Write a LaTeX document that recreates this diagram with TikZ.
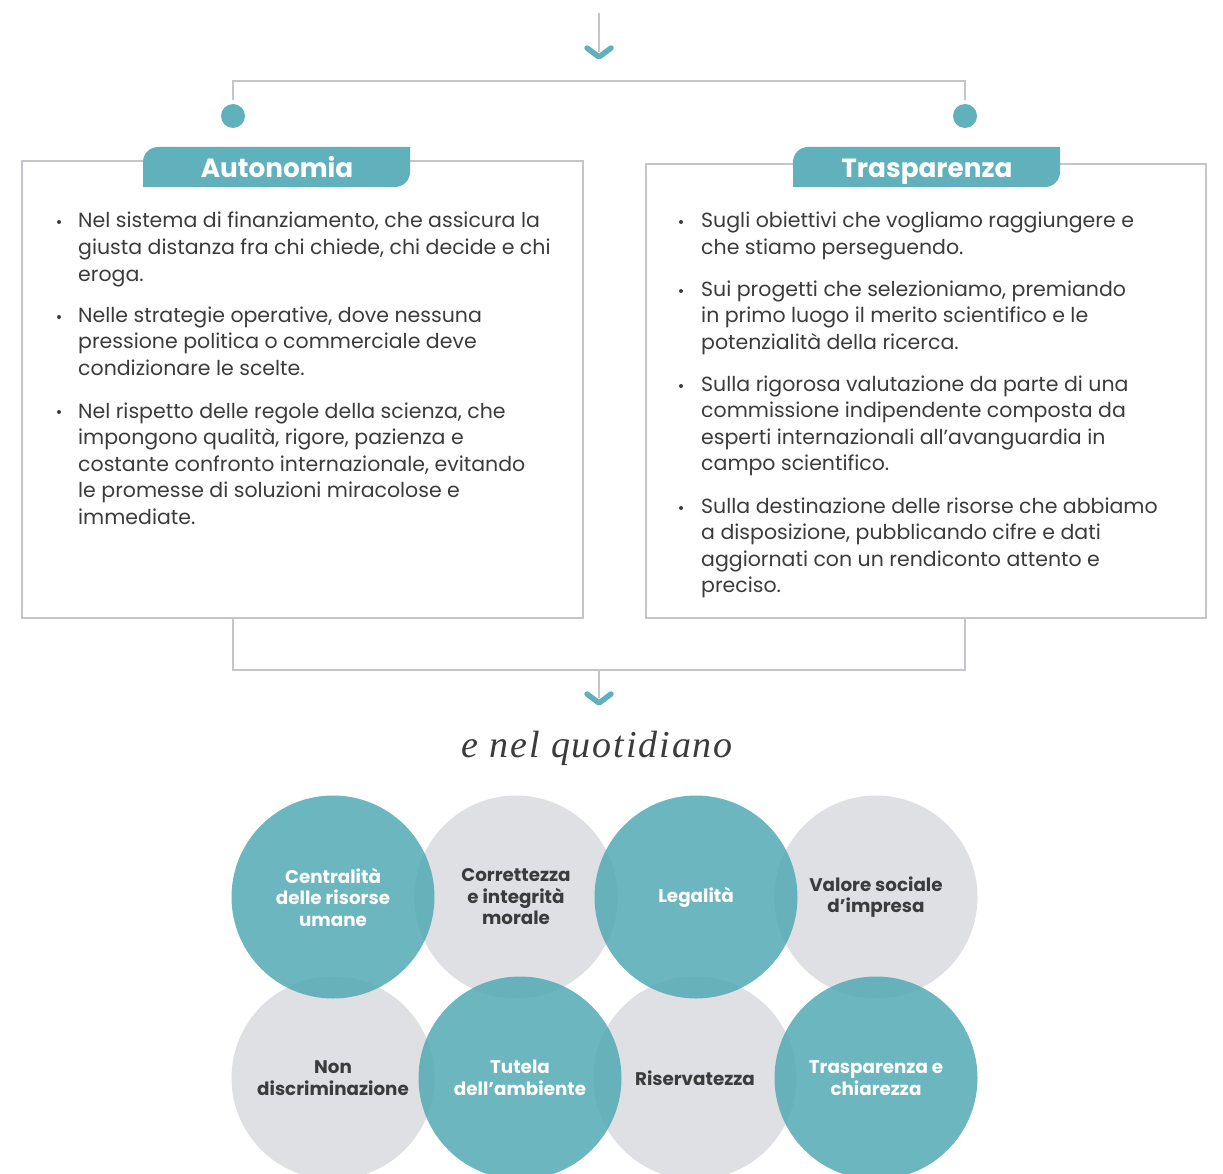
\documentclass[tikz,border=0pt]{standalone}
\usepackage{fontspec}
\setmainfont{Poppins}
\newfontfamily\mottofont[LetterSpace=5]{Liberation Serif}
\definecolor{tealtab}{HTML}{61B1BC}
\definecolor{tealdeep}{HTML}{52A9B4}
\definecolor{linegray}{HTML}{C5C6CC}
\definecolor{ringgray}{HTML}{DFE0E4}
\definecolor{inkdark}{HTML}{3B3B3B}

\begin{document}
\begin{tikzpicture}[x=1pt,y=-1pt,
  conn/.style={draw=linegray,line width=2.6pt},
  chev/.style={draw=tealtab,line width=5.5pt,line cap=round,line join=round},
  dot/.style={circle,fill=tealtab,inner sep=0pt,minimum size=24pt},
  box/.style={draw=linegray,line width=2.6pt,inner sep=0pt},
  tabtext/.style={anchor=base,text=white,font=\bfseries\fontsize{26.3}{30}\selectfont},
  body/.style={anchor=base west,align=left,inner sep=0pt,text=inkdark,font=\fontsize{20.5}{26.6}\selectfont},
  bul/.style={circle,fill=inkdark,inner sep=0pt,minimum size=4pt},
  graydisc/.style={circle,fill=ringgray,inner sep=0pt,minimum size=203pt,align=center,text=inkdark,font=\bfseries\fontsize{18.3}{21.5}\selectfont},
  tealdisc/.style={circle,fill=tealdeep,fill opacity=0.85,text opacity=1,inner sep=0pt,minimum size=203pt,align=center,text=white,font=\bfseries\fontsize{18.3}{21.5}\selectfont}]
\useasboundingbox (0,0) rectangle (1223,1174);

% top split
\coordinate (topS) at (599,13);
\coordinate (topT) at (599,57);
\coordinate (split) at (599,81);
\node[dot] (dotL) at (233,116) {};
\node[dot] (dotR) at (965,116) {};
\draw[conn] (topS) -- ([yshift=5pt]topT);
\draw[chev] ([shift={(-12,-9)}]topT) -- (topT) -- ([shift={(12,-9)}]topT);
\draw[conn] ([yshift=4pt]dotL.north) |- (split) -| ([yshift=4pt]dotR.north);

% boxes
\node[box,minimum width=561pt,minimum height=457pt] (boxL) at (302.5,389.5) {};
\node[box,minimum width=560pt,minimum height=454pt] (boxR) at (926,391) {};
\fill[tealtab] (143,147) -- (410,147) [rounded corners=15pt] -- (410,187) [sharp corners] -- (143,187) [rounded corners=15pt] -- cycle;
\fill[tealtab] (793,147) -- (1060,147) [rounded corners=15pt] -- (1060,187) [sharp corners] -- (793,187) [rounded corners=15pt] -- cycle;
\node[tabtext] (tabL) at (277,178) {Autonomia};
\node[tabtext] (tabR) at (927,178) {Trasparenza};

% left column (anchored at the last line)
\node[bul] (bL1) at (59,222) {};
\node[body] (pL1) at (78,281.2) {Nel sistema di finanziamento, che assicura la\\giusta distanza fra chi chiede, chi decide e chi\\eroga.};
\node[bul] (bL2) at (59,317) {};
\node[body] (pL2) at (78,375.2) {Nelle strategie operative, dove nessuna\\pressione politica o commerciale deve\\condizionare le scelte.};
\node[bul] (bL3) at (59,412) {};
\node[body] (pL3) at (78,524.4) {Nel rispetto delle regole della scienza, che\\impongono qualità, rigore, pazienza e\\costante confronto internazionale, evitando\\le promesse di soluzioni miracolose e\\immediate.};

% right column
\node[bul] (bR1) at (681,222) {};
\node[body] (pR1) at (701,254.6) {Sugli obiettivi che vogliamo raggiungere e\\che stiamo perseguendo.};
\node[bul] (bR2) at (681,291) {};
\node[body] (pR2) at (701,349.2) {Sui progetti che selezioniamo, premiando\\in primo luogo il merito scientifico e le\\potenzialità della ricerca.};
\node[bul] (bR3) at (681,386) {};
\node[body] (pR3) at (701,470.8) {Sulla rigorosa valutazione da parte di una\\commissione indipendente composta da\\esperti internazionali all'avanguardia in\\campo scientifico.};
\node[bul] (bR4) at (681,508) {};
\node[body] (pR4) at (701,592.8) {Sulla destinazione delle risorse che abbiamo\\a disposizione, pubblicando cifre e dati\\aggiornati con un rendiconto attento e\\preciso.};

% bottom merge
\coordinate (merge) at (599,670);
\coordinate (botT) at (599,703);
\draw[conn] (boxL.south -| dotL) |- (merge) -| (boxR.south -| dotR);
\draw[conn] (merge) -- ([yshift=5pt]botT);
\draw[chev] ([shift={(-12,-9)}]botT) -- (botT) -- ([shift={(12,-9)}]botT);
\node[text=inkdark,anchor=base,font=\mottofont\itshape\fontsize{38}{40}\selectfont] (motto) at (597,757) {e nel quotidiano};

% values
\node[graydisc] (cCorr) at (516,897) {Correttezza\\e integrità\\morale};
\node[graydisc] (cVal) at (876,897) {Valore sociale\\d'impresa};
\node[graydisc] (cNon) at (333,1078) {Non\\discriminazione};
\node[graydisc] (cRis) at (695,1078) {Riservatezza};
\node[tealdisc] (cCen) at (333,897) {Centralità\\delle risorse\\umane};
\node[tealdisc] (cLeg) at (696,897) {Legalità};
\node[tealdisc] (cTut) at (520,1078) {Tutela\\dell'ambiente};
\node[tealdisc] (cTra) at (876,1078) {Trasparenza e\\chiarezza};
\end{tikzpicture}
\end{document}
